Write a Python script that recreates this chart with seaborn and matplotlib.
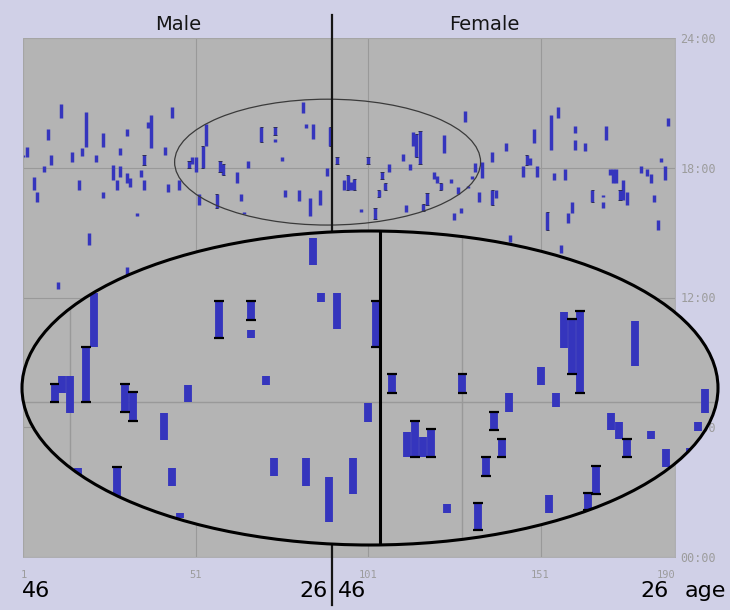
import numpy as np
import pandas as pd
import matplotlib
matplotlib.use("Agg")
import matplotlib.pyplot as plt
import seaborn as sns
import seaborn.objects as so
from matplotlib.patches import Ellipse

# one row per recorded interval: subject index (males 1-90, females 91-190),
# start and end hour, and whether both ends were recorded (black caps)
subject = [54, 53, 49, 50, 51, 58, 59, 66, 63, 70, 74, 74, 83, 85, 90, 82, 76, 89, 77, 81, 84, 87, 57, 52, 64, 65,
           92, 94, 95, 96, 97, 101, 99, 103, 104, 105, 106, 107, 111, 112, 113, 114, 115, 116, 117, 118, 120, 121,
           122, 123, 125, 127, 131, 132,
           12, 19, 8, 24, 31, 38, 37, 44, 2, 1, 9, 15, 18, 22, 29, 36, 42, 7, 4, 5, 17, 24, 27, 28, 29, 31, 32, 35,
           36, 43, 46, 34, 20, 11, 31,
           129, 154, 156, 149, 141, 137, 147, 148, 161, 161, 164, 170, 188, 146, 150, 155, 158, 171, 172, 173, 175,
           174, 176, 180, 182, 183, 187, 186, 166, 169, 169, 184, 137, 138, 133, 160, 159, 153, 126, 128, 185, 142,
           157, 130, 134]
start = [19.02, 18.00, 18.00, 18.17, 17.80, 17.81, 17.65, 18.00, 17.30, 19.19, 19.52, 19.19, 19.85, 19.35, 19.02,
         20.54, 18.31, 17.63, 16.63, 16.44, 15.78, 16.30, 16.15, 16.28, 16.44, 15.85,
         18.17, 16.98, 16.98, 16.98, 16.98, 18.17, 15.94, 15.63, 16.63, 17.48, 16.98, 17.81, 18.31, 15.94, 17.90,
         19.00, 18.52, 18.17, 16.00, 16.30, 17.48, 17.31, 16.98, 18.67, 17.31, 16.80, 17.46, 17.80,
         20.30, 18.96, 19.28, 18.96, 19.47, 18.91, 19.84, 20.30, 18.50, 18.50, 18.13, 18.27, 18.54, 18.27, 18.59,
         18.13, 18.59, 17.80, 16.97, 16.42, 16.97, 16.60, 17.43, 16.97, 17.57, 17.29, 17.11, 17.57, 16.97, 16.88,
         16.97, 15.77, 14.43, 12.39, 13.04,
         20.12, 18.82, 20.30, 19.14, 18.77, 18.27, 18.13, 18.13, 19.61, 18.82, 18.77, 19.28, 19.93, 17.57, 17.57,
         17.43, 17.43, 17.66, 17.30, 17.30, 16.50, 16.50, 16.30, 17.76, 17.62, 17.29, 17.43, 18.27, 16.42, 16.65,
         16.14, 16.42, 16.28, 16.60, 16.42, 15.91, 15.45, 15.12, 15.58, 15.91, 15.12, 14.57, 14.06, 17.05, 17.53]
end = [20.02, 19.02, 18.33, 18.48, 18.48, 18.33, 18.19, 18.31, 17.80, 19.87, 19.87, 19.33, 20.02, 20.02, 19.87,
       21.04, 18.48, 17.98, 16.96, 16.96, 16.61, 16.96, 16.80, 16.78, 16.78, 15.94,
       18.52, 17.44, 17.65, 17.35, 17.50, 18.52, 16.11, 16.13, 16.98, 17.81, 17.31, 18.17, 18.65, 16.28, 18.17,
       19.67, 19.54, 19.69, 16.31, 16.81, 17.80, 17.63, 17.31, 19.50, 17.46, 17.13, 17.63, 18.24,
       20.95, 20.58, 19.79, 19.61, 19.79, 20.44, 20.12, 20.81, 18.96, 18.60, 18.59, 18.73, 18.91, 18.59, 18.91,
       18.59, 18.96, 18.08, 17.57, 16.88, 17.43, 16.88, 18.13, 17.43, 18.08, 17.76, 17.53, 17.90, 17.43, 17.25,
       17.43, 15.91, 14.98, 12.72, 13.41,
       20.62, 20.44, 20.81, 19.79, 19.14, 18.73, 18.59, 18.45, 19.93, 19.28, 19.14, 19.93, 20.30, 18.08, 18.08,
       17.76, 17.94, 17.94, 17.94, 17.94, 17.43, 16.97, 16.88, 18.08, 17.94, 17.71, 18.08, 18.45, 16.97, 16.74,
       16.42, 16.74, 16.97, 16.97, 16.88, 16.42, 15.91, 15.95, 15.91, 16.14, 15.58, 14.89, 14.43, 17.15, 18.27]
capped = [0, 1, 1, 0, 0, 1, 1, 0, 0, 1, 1, 0, 0, 0, 1, 0, 0, 0, 0, 0, 0, 0, 1, 0, 0, 0,
          1, 0, 1, 0, 1, 1, 0, 1, 1, 1, 1, 0, 0, 0, 0, 0, 1, 1, 1, 1, 0, 0, 1, 0, 0, 0, 0, 0,
          0, 0, 0, 0, 0, 0, 0, 0, 0, 0, 0, 0, 0, 0, 0, 1, 0, 0, 0, 0, 0, 0, 0, 0, 0, 0, 0, 0,
          0, 0, 0, 0, 0, 0, 0,
          0, 0, 0, 0, 0, 0, 1, 0, 0, 0, 0, 0, 0, 0, 0, 0, 0, 0, 0, 0, 0, 1, 0, 0, 0, 0, 0, 0, 1, 0,
          0, 0, 1, 0, 0, 0, 0, 1, 0, 0, 0, 0, 0, 0, 0]

n_male = 90
groups = ["Male", "Female"]
ages = ["46", "26"]
x_ticks = [1, 51, 101, 151, 190]
hour_ticks = [0, 6, 12, 18, 24]
hour_labels = ["00:00", "06:00", "12:00", "18:00", "24:00"]

# part of the chart that is shown enlarged in the lens
lens_x = (44.84, 133.6)
lens_y = (15.35, 21.17)

LAVENDER = "#d0d0e7"
GRAY = "#b4b4b4"
GRID = "#999999"
BLUE = "#3535bd"
TICK = "#9c9c9c"

df = pd.DataFrame({"subject": subject, "start": start, "end": end, "capped": capped})
df["rid"] = range(len(df))

W, H = 730, 610
fig = plt.figure(figsize=(W / 100, H / 100), dpi=100)
fig.patch.set_facecolor(LAVENDER)


def px_box(x0, y0, x1, y1):
    return [x0 / W, 1 - y1 / H, (x1 - x0) / W, (y1 - y0) / H]


def draw_bars(target, xlim, ylim, cap_lw, cap_half, cap_color):
    # bars are one subject wide
    width_pt = target.get_position().width * W / 100 * 72 / (xlim[1] - xlim[0])
    ends = df[df.capped == 1]
    cap = pd.concat([ends.assign(h=ends.start), ends.assign(h=ends.end)]).reset_index(drop=True)
    cap["x0"] = cap.subject - cap_half
    cap["x1"] = cap.subject + cap_half
    cap["cid"] = range(len(cap))
    (
        so.Plot()
        .add(so.Range(color=BLUE, linewidth=width_pt, artist_kws={"capstyle": "butt"}),
             data=df, x="subject", ymin="start", ymax="end", group="rid")
        .add(so.Range(color=cap_color, linewidth=cap_lw, artist_kws={"capstyle": "butt"}),
             data=cap, y="h", xmin="x0", xmax="x1", group="cid", orient="y")
        .limit(x=xlim, y=ylim)
        .on(target)
        .plot()
    )
    target.set_xlabel("")
    target.set_ylabel("")


# main chart
ax = fig.add_axes(px_box(23, 38, 675, 557))
main_x = (0.855, 189.84)
draw_bars(ax, main_x, (0, 24), 0.6, 0.5, "#222244")
ax.set_facecolor(GRAY)
ax.set_xticks(x_ticks, [str(t) for t in x_ticks])
ax.yaxis.tick_right()
ax.set_yticks(hour_ticks, hour_labels)
ax.tick_params(length=0, labelsize=7.5, labelcolor=TICK)
ax.tick_params(axis="x", pad=9)
ax.tick_params(axis="y", pad=4, labelsize=8.5)
for lab in ax.get_xticklabels() + ax.get_yticklabels():
    lab.set_fontfamily("DejaVu Sans Mono")
ax.get_xticklabels()[-1].set_ha("right")
ax.grid(True, color=GRID, lw=0.8)
ax.set_axisbelow(True)
for s in ax.spines.values():
    s.set_color("#a8a8a8")
    s.set_linewidth(0.6)

# outline of the enlarged region and the male/female divider
ax.add_patch(Ellipse(((lens_x[0] + lens_x[1]) / 2, (lens_y[0] + lens_y[1]) / 2),
                     lens_x[1] - lens_x[0], lens_y[1] - lens_y[0],
                     fill=False, edgecolor="#3a3a3a", lw=0.9, zorder=3))
ax.axvline(n_male + 0.5, ymin=-48 / 519, ymax=1 + 23 / 519, color="#151515", lw=1.6,
           clip_on=False, zorder=4)

# lens
lens = fig.add_axes(px_box(22, 231, 718, 545))
draw_bars(lens, lens_x, lens_y, 1.6, 0.62, "black")
lens.patch.set_visible(False)
lens.set_xticks([])
lens.set_yticks([])
for s in lens.spines.values():
    s.set_visible(False)
face = Ellipse((0.5, 0.5), 1, 1, transform=lens.transAxes, facecolor=GRAY,
               edgecolor="none", zorder=0)
lens.add_patch(face)
for xv in x_ticks:
    if lens_x[0] < xv < lens_x[1]:
        lens.axvline(xv, color=GRID, lw=1.0, zorder=0.5).set_clip_path(face)
for hv in hour_ticks:
    if lens_y[0] < hv < lens_y[1]:
        lens.axhline(hv, color=GRID, lw=1.0, zorder=0.5).set_clip_path(face)
lens.axvline(n_male + 0.5, color="black", lw=2.2, zorder=3).set_clip_path(face)
for c in lens.collections:
    c.set_clip_path(face)
lens.add_patch(Ellipse((0.5, 0.5), 1, 1, transform=lens.transAxes, fill=False,
                       edgecolor="black", lw=2.2, zorder=5, clip_on=False))

# headers and age labels
fig.text(178 / W, 1 - 25 / H, groups[0], ha="center", va="center", fontsize=14, color="#151515")
fig.text(484 / W, 1 - 25 / H, groups[1], ha="center", va="center", fontsize=14, color="#151515")
fig.text(22 / W, 1 - 591 / H, ages[0], ha="left", va="center", fontsize=16)
fig.text(328 / W, 1 - 591 / H, ages[1], ha="right", va="center", fontsize=16)
fig.text(338 / W, 1 - 591 / H, ages[0], ha="left", va="center", fontsize=16)
fig.text(669 / W, 1 - 591 / H, ages[1], ha="right", va="center", fontsize=16)
fig.text(685 / W, 1 - 591 / H, "age", ha="left", va="center", fontsize=16)

fig.savefig("out.png", dpi=100, facecolor=fig.get_facecolor())
